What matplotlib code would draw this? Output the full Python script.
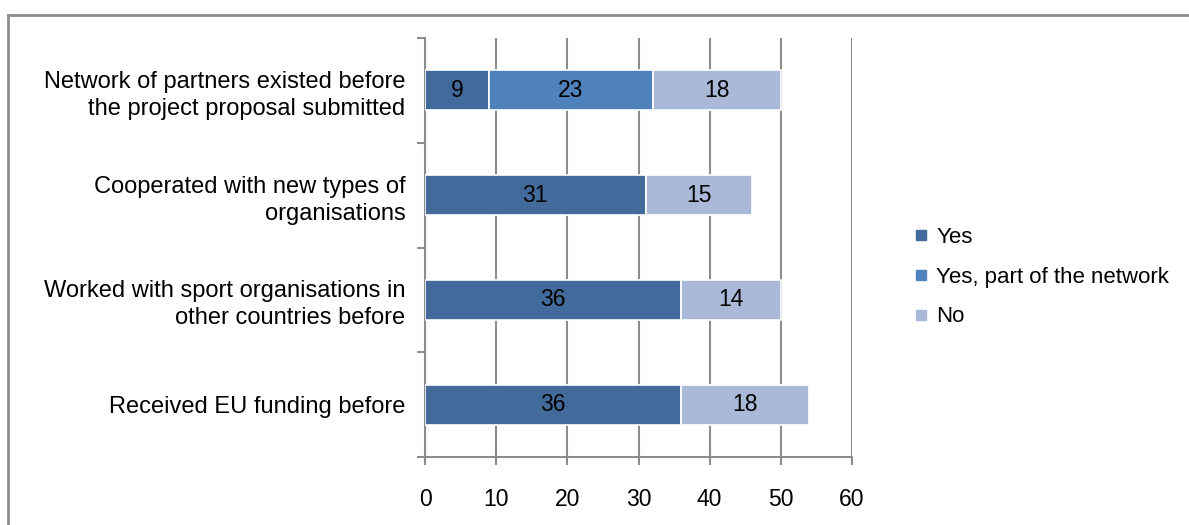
import matplotlib.pyplot as plt
import numpy as np
from matplotlib.lines import Line2D

plt.rcParams['font.family'] = ['Liberation Sans', 'DejaVu Sans']

# survey answers per statement (top to bottom)
categories = ['Network of partners existed before\nthe project proposal submitted',
              'Cooperated with new types of\norganisations',
              'Worked with sport organisations in\nother countries before',
              'Received EU funding before']
yes = [9, 31, 36, 36]
yes_network = [23, 0, 0, 0]
no = [18, 15, 14, 18]

series = [('Yes', yes, '#426a9b'),
          ('Yes, part of the network', yes_network, '#4f81bd'),
          ('No', no, '#aab9d7')]

fig = plt.figure(figsize=(11.89, 5.25), dpi=100)
ax = fig.add_axes([425 / 1189, 68 / 525, 427 / 1189, 419 / 525])

ypos = np.arange(len(categories))
left = np.zeros(len(categories))
for name, vals, col in series:
    vals = np.array(vals, dtype=float)
    bars = ax.barh(ypos, vals, left=left, height=0.38, color=col,
                   edgecolor='white', linewidth=1.2, label=name, zorder=3)
    for b, v in zip(bars, vals):
        if v > 0:
            ax.text(b.get_x() + b.get_width() / 2, b.get_y() + b.get_height() / 2,
                    f'{v:.0f}', ha='center', va='center', fontsize=16.5,
                    color='black', zorder=4)
    left += vals

ax.set_xlim(0, 60)
ax.set_ylim(len(categories) - 0.5, -0.5)
ax.set_xticks(range(0, 61, 10))
ax.set_yticks(ypos)
ax.set_yticklabels(categories, fontsize=17, linespacing=1.3)
ax.set_yticks(np.arange(-0.5, len(categories), 1), minor=True)

ax.tick_params(axis='y', which='major', length=0, pad=14)
ax.tick_params(axis='y', which='minor', length=6, width=1.5, color='#8c8c8c', direction='out')
ax.tick_params(axis='x', which='major', length=6, width=1.5, color='#8c8c8c',
               labelsize=16.5, pad=16)

ax.grid(axis='x', color='#8c8c8c', linewidth=1.5, zorder=0)
for s in ['top', 'right']:
    ax.spines[s].set_visible(False)
for s in ['left', 'bottom']:
    ax.spines[s].set_color('#8c8c8c')
    ax.spines[s].set_linewidth(1.5)

handles = [Line2D([], [], marker='s', linestyle='none', markersize=7,
                  markerfacecolor=c, markeredgecolor=c) for _, _, c in series]
fig.legend(handles, [n for n, _, _ in series], loc='center left',
           bbox_to_anchor=(903 / 1189, 1 - 277 / 525), frameon=False,
           fontsize=16, handlelength=0.6, handletextpad=0.4,
           labelspacing=0.85, borderpad=0)

# outer frame, top and left only
fig.add_artist(Line2D([8 / 1189, 1], [1 - 15 / 525, 1 - 15 / 525],
                      transform=fig.transFigure, color='#8c8c8c', linewidth=2))
fig.add_artist(Line2D([8 / 1189, 8 / 1189], [0, 1 - 15 / 525],
                      transform=fig.transFigure, color='#8c8c8c', linewidth=2))

fig.savefig('out.png', dpi=100)
